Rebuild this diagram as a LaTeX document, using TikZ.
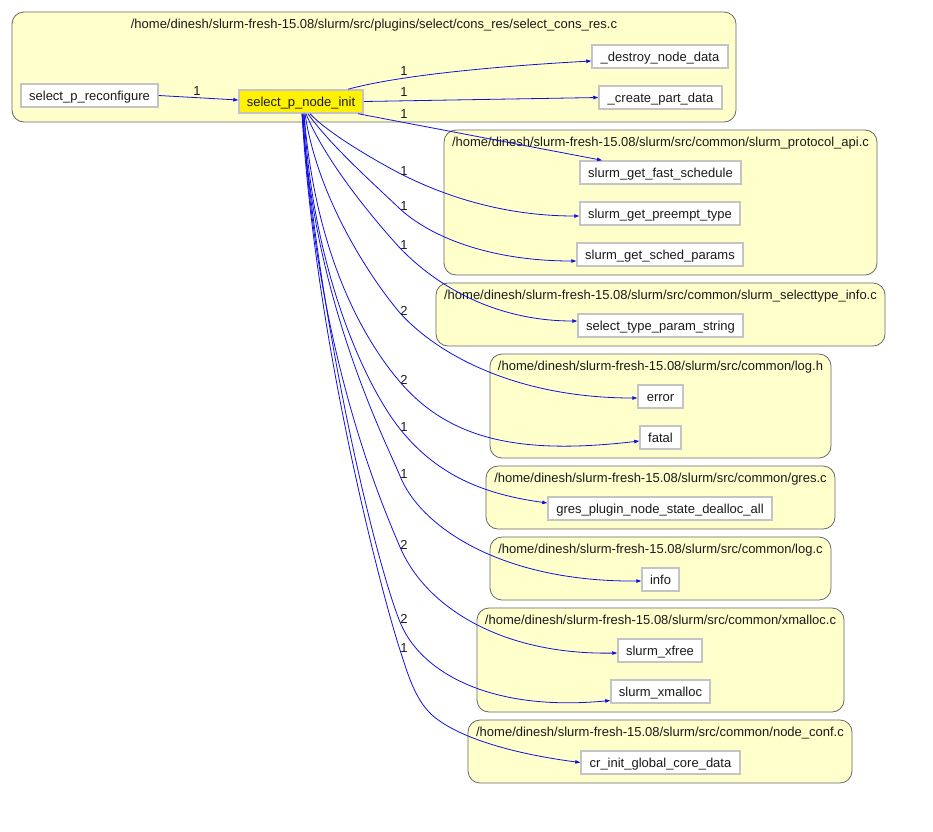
\documentclass[tikz,border=0pt]{standalone}
\usepackage{fontspec}
\setmainfont{Liberation Sans}
\usetikzlibrary{arrows.meta}
\definecolor{clfill}{HTML}{FFFFCC}
\definecolor{clline}{HTML}{666666}
\definecolor{nline}{HTML}{C4C4C4}
\definecolor{edgeblue}{HTML}{1010E0}
\definecolor{txt}{HTML}{1A1A1A}
\begin{document}
\begin{tikzpicture}[x=1pt,y=-1pt,
  fn/.style={draw=nline, line width=1.5pt, fill=white, inner sep=0pt, minimum height=23pt, text height=12pt, text depth=1.5pt, text=txt, font=\fontsize{13}{15}\selectfont},
  cluster/.style={draw=clline, line width=0.8pt, fill=clfill, rounded corners=12pt},
  cl/.style={font=\fontsize{13}{15}\selectfont, inner sep=0pt, text height=12pt, text depth=1.5pt, text=txt},
  edge/.style={draw=edgeblue, line width=0.8pt, -{Triangle[length=5pt,width=3.5pt]}},
  lbl/.style={font=\fontsize{13}{15}\selectfont, inner sep=0pt, text=txt}]

\useasboundingbox (0,0) rectangle (933,831);

% clusters
\draw[cluster] (12,12) rectangle (736,122);
\node[cl] (c1) at (374,23) {/home/dinesh/slurm-fresh-15.08/slurm/src/plugins/select/cons\_res/select\_cons\_res.c};
\draw[cluster] (444,130) rectangle (877,275);
\node[cl] (c2) at (660.5,141) {/home/dinesh/slurm-fresh-15.08/slurm/src/common/slurm\_protocol\_api.c};
\draw[cluster] (436,283) rectangle (885,346);
\node[cl] (c3) at (660.5,294) {/home/dinesh/slurm-fresh-15.08/slurm/src/common/slurm\_selecttype\_info.c};
\draw[cluster] (490,354) rectangle (831,458);
\node[cl] (c4) at (660.5,365) {/home/dinesh/slurm-fresh-15.08/slurm/src/common/log.h};
\draw[cluster] (486,466) rectangle (835,529);
\node[cl] (c5) at (660.5,477) {/home/dinesh/slurm-fresh-15.08/slurm/src/common/gres.c};
\draw[cluster] (490,537) rectangle (831,600);
\node[cl] (c6) at (660.5,548) {/home/dinesh/slurm-fresh-15.08/slurm/src/common/log.c};
\draw[cluster] (477,608) rectangle (844,712);
\node[cl] (c7) at (660.5,619) {/home/dinesh/slurm-fresh-15.08/slurm/src/common/xmalloc.c};
\draw[cluster] (468,720) rectangle (852,783);
\node[cl] (c8) at (660,731) {/home/dinesh/slurm-fresh-15.08/slurm/src/common/node\_conf.c};

% nodes
\node[fn, minimum width=137pt] (reconf) at (89.5,95.5) {select\_p\_reconfigure};
\node[fn, minimum width=124pt, fill=yellow] (init) at (301,101.5) {select\_p\_node\_init};
\node[fn, minimum width=136pt] (dest) at (660,56.5) {\_destroy\_node\_data};
\node[fn, minimum width=123pt] (create) at (660.5,97.5) {\_create\_part\_data};
\node[fn, minimum width=161pt] (fast) at (660.5,172.5) {slurm\_get\_fast\_schedule};
\node[fn, minimum width=160pt] (pre) at (660,213.5) {slurm\_get\_preempt\_type};
\node[fn, minimum width=166pt] (sch) at (660,254.5) {slurm\_get\_sched\_params};
\node[fn, minimum width=165pt] (typ) at (660.5,325.5) {select\_type\_param\_string};
\node[fn, minimum width=45pt] (err) at (660.5,396.5) {error};
\node[fn, minimum width=41pt] (fat) at (660.5,437.5) {fatal};
\node[fn, minimum width=224pt] (gres) at (660,508.5) {gres\_plugin\_node\_state\_dealloc\_all};
\node[fn, minimum width=37pt] (info) at (660.5,579.5) {info};
\node[fn, minimum width=84pt] (xfree) at (660,650.5) {slurm\_xfree};
\node[fn, minimum width=99pt] (xmal) at (660.5,691.5) {slurm\_xmalloc};
\node[fn, minimum width=159pt] (cr) at (660.5,762.5) {cr\_init\_global\_core\_data};

% edges
\draw[edge] (reconf.east) -- ([yshift=1.5pt]init.west);
\draw[edge] ([xshift=47pt]init.north) .. controls (400,75) and (500,66) .. ([yshift=-4.5pt]dest.west);
\draw[edge] (init.east) -- (create.west);
\draw[edge] ([xshift=57pt]init.south) -- ([xshift=-58.5pt]fast.north);
\draw[edge] ([xshift=9pt]init.south) .. controls (330,135) and (380,163) .. (399,173) .. controls (440,194) and (500,216) .. ([yshift=-2.5pt]pre.west);
\draw[edge] ([xshift=7pt]init.south) .. controls (330,145) and (375,185) .. (399,208) .. controls (430,237) and (490,261) .. ([yshift=-6.5pt]sch.west);
\draw[edge] ([xshift=5pt]init.south) .. controls (325,160) and (370,215) .. (399,247) .. controls (440,290) and (500,321) .. ([yshift=4.5pt]typ.west);
\draw[edge] ([xshift=4pt]init.south) .. controls (318,200) and (372,280) .. (400,313) .. controls (440,357) and (520,398) .. ([yshift=-1.5pt]err.west);
\draw[edge] ([xshift=3pt]init.south) .. controls (315,250) and (360,335) .. (400,382) .. controls (450,440) and (520,455) .. ([yshift=-3.5pt]fat.west);
\draw[edge] ([xshift=3pt]init.south) .. controls (312,270) and (365,385) .. (400,429) .. controls (440,479) and (490,495) .. ([yshift=5.5pt]gres.west);
\draw[edge] ([xshift=2pt]init.south) .. controls (312,300) and (388,446) .. (400,476) .. controls (420,526) and (500,582) .. ([yshift=-1.5pt]info.west);
\draw[edge] ([xshift=2pt]init.south) .. controls (315,350) and (382,505) .. (400,547) .. controls (425,606) and (500,655) .. ([yshift=-2.5pt]xfree.west);
\draw[edge] ([xshift=1pt]init.south) .. controls (320,330) and (375,560) .. (400,622) .. controls (420,672) and (490,712) .. ([yshift=-9pt]xmal.west);
\draw[edge] ([xshift=1pt]init.south) .. controls (315,340) and (382,595) .. (400,650) .. controls (408,675) and (415,698) .. (430,713) .. controls (450,733) and (500,752) .. (cr.west);

% edge labels
\node[lbl] (l0) at (197,91) {1};
\node[lbl] (l1) at (404,71) {1};
\node[lbl] (l2) at (404,92) {1};
\node[lbl] (l3) at (404,114) {1};
\node[lbl] (l4) at (404,171) {1};
\node[lbl] (l5) at (404,206) {1};
\node[lbl] (l6) at (404,245) {1};
\node[lbl] (l7) at (404,311) {2};
\node[lbl] (l8) at (404,380) {2};
\node[lbl] (l9) at (404,427) {1};
\node[lbl] (l10) at (404,474) {1};
\node[lbl] (l11) at (404,545) {2};
\node[lbl] (l12) at (404,619) {2};
\node[lbl] (l13) at (404,648) {1};
\end{tikzpicture}
\end{document}
